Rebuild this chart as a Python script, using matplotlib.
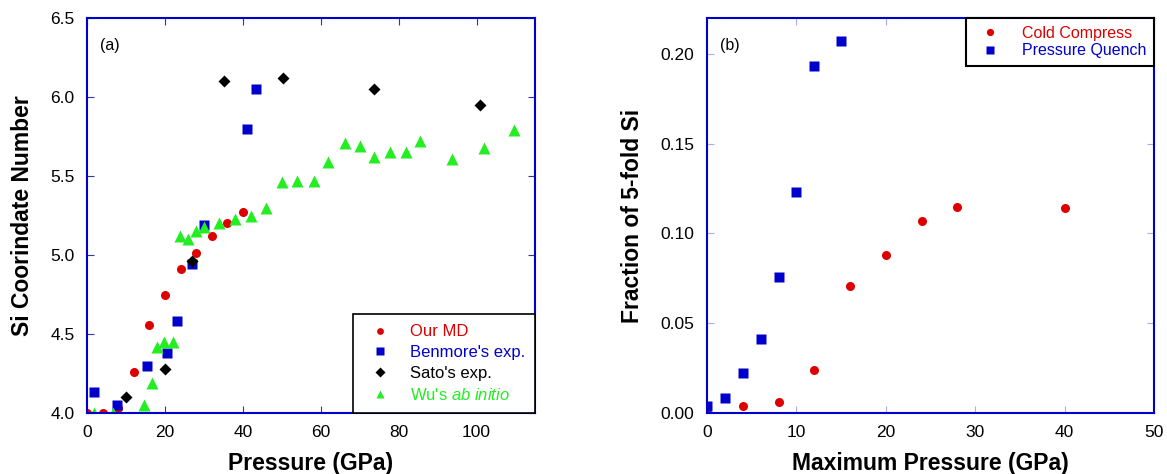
import matplotlib
matplotlib.use("Agg")
import matplotlib.pyplot as plt

plt.rcParams["font.family"] = ["Liberation Sans", "DejaVu Sans"]
plt.rcParams["mathtext.fontset"] = "custom"
plt.rcParams["mathtext.rm"] = "Liberation Sans"
plt.rcParams["mathtext.it"] = "Liberation Sans:italic"

# (a) Si coordination number vs pressure
md_p = [0, 4, 8, 12, 16, 20, 24, 28, 32, 36, 40]
md_cn = [4.0, 4.0, 4.03, 4.26, 4.56, 4.75, 4.91, 5.01, 5.12, 5.20, 5.27]

benmore_p = [1.9, 7.6, 15.5, 20.6, 23.0, 27.0, 30.0, 41.0, 43.4]
benmore_cn = [4.13, 4.05, 4.30, 4.38, 4.58, 4.94, 5.19, 5.80, 6.05]

sato_p = [10.0, 20.0, 27.0, 35.2, 50.4, 73.7, 101.0]
sato_cn = [4.10, 4.28, 4.96, 6.10, 6.12, 6.05, 5.95]

wu_p = [1.9, 6.7, 14.6, 16.6, 18.0, 19.8, 22.0, 23.8, 26.0, 28.0, 30.0, 34.0,
        38.0, 42.0, 45.9, 50.0, 54.0, 58.2, 61.8, 66.2, 70.0, 73.8, 77.9, 81.8,
        85.6, 93.8, 101.8, 109.7]
wu_cn = [4.0, 4.0, 4.05, 4.19, 4.42, 4.45, 4.45, 5.12, 5.10, 5.15, 5.18, 5.20,
         5.23, 5.25, 5.30, 5.46, 5.47, 5.47, 5.59, 5.71, 5.69, 5.62, 5.65, 5.65,
         5.72, 5.61, 5.68, 5.79]

# (b) fraction of 5-fold Si vs maximum pressure
cold_p = [0, 4, 8, 12, 16, 20, 24, 28, 40]
cold_frac = [0.0, 0.004, 0.006, 0.024, 0.0706, 0.088, 0.107, 0.115, 0.114]

quench_p = [0, 2, 4, 6, 8, 10, 12, 15]
quench_frac = [0.004, 0.0083, 0.022, 0.041, 0.0755, 0.123, 0.193, 0.207]

RED = "#dd0000"
BLUE = "#0000cc"
GREEN = "#22ee22"

fig = plt.figure(figsize=(11.67, 4.74), dpi=100)
ax1 = fig.add_axes([0.0746, 0.1287, 0.3838, 0.8333])
ax2 = fig.add_axes([0.6058, 0.1287, 0.3831, 0.8333])

ax1.plot(md_p, md_cn, "o", color=RED, ms=6.5, mec="none", label="Our MD")
ax1.plot(benmore_p, benmore_cn, "s", color=BLUE, ms=6.8, mec="none", label="Benmore's exp.")
ax1.plot(sato_p, sato_cn, "D", color="black", ms=6.3, mec="none", label="Sato's exp.")
ax1.plot(wu_p, wu_cn, "^", color=GREEN, ms=8, mec="none", label="Wu's $\\mathit{ab\\ initio}$")

ax1.set_xlim(0, 115)
ax1.set_ylim(4.0, 6.5)
ax1.set_xticks([0, 20, 40, 60, 80, 100])
ax1.set_yticks([4.0, 4.5, 5.0, 5.5, 6.0, 6.5])
ax1.set_yticklabels(["4.0", "4.5", "5.0", "5.5", "6.0", "6.5"])
ax1.set_xlabel("Pressure (GPa)", fontsize=16.5, fontweight="bold", labelpad=8)
ax1.set_ylabel("Si Coorindate Number", fontsize=16.5, fontweight="bold", labelpad=12)
ax1.text(0.03, 0.95, "(a)", transform=ax1.transAxes, fontsize=11.5, va="top")

leg1 = ax1.legend(loc="lower right", fontsize=12, frameon=True, fancybox=False,
                  edgecolor="black", framealpha=1, borderaxespad=0,
                  handletextpad=0.8, labelspacing=0.35, borderpad=0.6,
                  markerscale=0.75)
leg1.get_frame().set_linewidth(1.2)
for txt, c in zip(leg1.get_texts(), [RED, BLUE, "black", GREEN]):
    txt.set_color(c)

ax2.plot(cold_p, cold_frac, "o", color=RED, ms=6.5, mec="none", label="Cold Compress")
ax2.plot(quench_p, quench_frac, "s", color=BLUE, ms=6.8, mec="none", label="Pressure Quench")

ax2.set_xlim(0, 50)
ax2.set_ylim(0, 0.22)
ax2.set_xticks([0, 10, 20, 30, 40, 50])
ax2.set_yticks([0.0, 0.05, 0.10, 0.15, 0.20])
ax2.set_yticklabels(["0.00", "0.05", "0.10", "0.15", "0.20"])
ax2.set_xlabel("Maximum Pressure (GPa)", fontsize=16.5, fontweight="bold", labelpad=8)
ax2.set_ylabel("Fraction of 5-fold Si", fontsize=16.5, fontweight="bold", labelpad=12)
ax2.text(0.03, 0.95, "(b)", transform=ax2.transAxes, fontsize=11.5, va="top")

leg2 = ax2.legend(loc="upper right", fontsize=11.5, frameon=True, fancybox=False,
                  edgecolor="black", framealpha=1, borderaxespad=0,
                  handletextpad=1.0, labelspacing=0.15, borderpad=0.5,
                  markerscale=0.8)
leg2.get_frame().set_linewidth(1.5)
for txt, c in zip(leg2.get_texts(), [RED, BLUE]):
    txt.set_color(c)

for ax, tc in [(ax1, "#3333aa"), (ax2, "#aaaaee")]:
    for s in ax.spines.values():
        s.set_color(BLUE)
        s.set_linewidth(1.5)
    ax.tick_params(direction="in", top=True, right=True, length=5,
                   color=tc, labelsize=12.5, pad=9)

fig.savefig("out.png", dpi=100)
